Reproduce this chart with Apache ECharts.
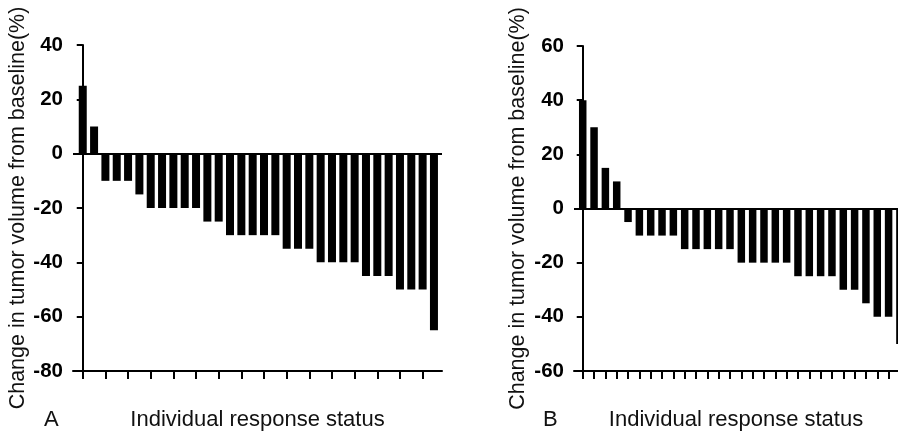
<!DOCTYPE html>
<html>
<head>
<meta charset="utf-8">
<script src="https://cdn.jsdelivr.net/npm/echarts@6/dist/echarts.min.js"></script>
<style>
html,body{margin:0;padding:0;background:#fff;}
#chart{width:898px;height:436px;}
</style>
</head>
<body>
<div id="chart"></div>
<script>
// Panel A: change in tumor volume per patient (%)
const valuesA = [25, 10, -10, -10, -10, -15, -20, -20, -20, -20, -20, -25, -25, -30, -30, -30, -30, -30, -35, -35, -35, -40, -40, -40, -40, -45, -45, -45, -50, -50, -50, -65];
// Panel B: change in tumor volume per patient (%)
const valuesB = [40, 30, 15, 10, -5, -10, -10, -10, -10, -15, -15, -15, -15, -15, -20, -20, -20, -20, -20, -25, -25, -25, -25, -30, -30, -35, -40, -40, -50];
// tick positions (patient index) on the x axes
const ticksA = [0, 2, 4, 6, 8, 10, 12, 14, 16, 18, 20, 22, 24, 26, 28, 30];
const ticksB = [0, 1, 2, 3, 4, 5, 6, 7, 8, 9, 10, 11, 12, 13, 14, 15, 16, 17, 18, 19, 20, 21, 22, 23, 24, 25, 26, 27, 28];
const yTitle = 'Change in tumor volume from baseline(%)';
const xTitle = 'Individual response status';
const panelLabels = ['A', 'B'];

const numFont = "'Liberation Sans', Arial, sans-serif";
const txtFont = "'Liberation Sans', Arial, sans-serif";

function xAxisCfg(gridIndex, min, max, ticks) {
  return {
    type: 'value', gridIndex, min, max,
    name: xTitle, nameLocation: 'middle', nameGap: 38,
    nameTextStyle: { fontFamily: txtFont, fontSize: 22, color: '#111' },
    axisLine: { show: true, onZero: false, lineStyle: { color: '#000', width: 2 } },
    axisTick: { show: true, inside: false, length: 8, customValues: ticks, lineStyle: { color: '#000', width: 2 } },
    axisLabel: { show: false },
    splitLine: { show: false }
  };
}
function yAxisCfg(gridIndex, min, max, gap) {
  return {
    type: 'value', gridIndex, min, max, interval: 20,
    name: yTitle, nameLocation: 'middle', nameGap: gap, nameRotate: 90,
    nameTextStyle: { fontFamily: txtFont, fontSize: 21.5, color: '#111' },
    axisLine: { show: true, lineStyle: { color: '#000', width: 2 } },
    axisTick: { show: true, length: 6, lineStyle: { color: '#000', width: 2 } },
    axisLabel: { fontFamily: numFont, fontWeight: 'bold', fontSize: 20.5, color: '#000', margin: 10 },
    splitLine: { show: false }
  };
}
function barSeries(idx, values) {
  return {
    type: 'bar', xAxisIndex: idx, yAxisIndex: idx,
    data: values.map((v, i) => [i, v]),
    barWidth: idx === 0 ? 8 : 7.5,
    itemStyle: { color: '#000' },
    silent: true,
    markLine: {
      silent: true, symbol: 'none', label: { show: false },
      lineStyle: { color: '#000', width: 2, type: 'solid' },
      data: [{ yAxis: 0 }]
    }
  };
}

const chart = echarts.init(document.getElementById('chart'), null, { renderer: 'canvas' });
chart.setOption({
  animation: false,
  backgroundColor: '#fff',
  grid: [
    { left: 73, top: 45, width: 369, height: 330 },
    { left: 574, top: 46, width: 324, height: 330 }
  ],
  xAxis: [
    xAxisCfg(0, -0.86, 31.71, ticksA),
    xAxisCfg(1, -0.77, 27.83, ticksB)
  ],
  yAxis: [
    yAxisCfg(0, -80, 40, 37),
    yAxisCfg(1, -60, 60, 45)
  ],
  series: [barSeries(0, valuesA), barSeries(1, valuesB)],
  graphic: [
    { type: 'text', left: 44, top: 409, style: { text: panelLabels[0], fontFamily: txtFont, fontSize: 22, fill: '#111' } },
    { type: 'text', left: 543, top: 409, style: { text: panelLabels[1], fontFamily: txtFont, fontSize: 22, fill: '#111' } }
  ]
});
</script>
</body>
</html>
